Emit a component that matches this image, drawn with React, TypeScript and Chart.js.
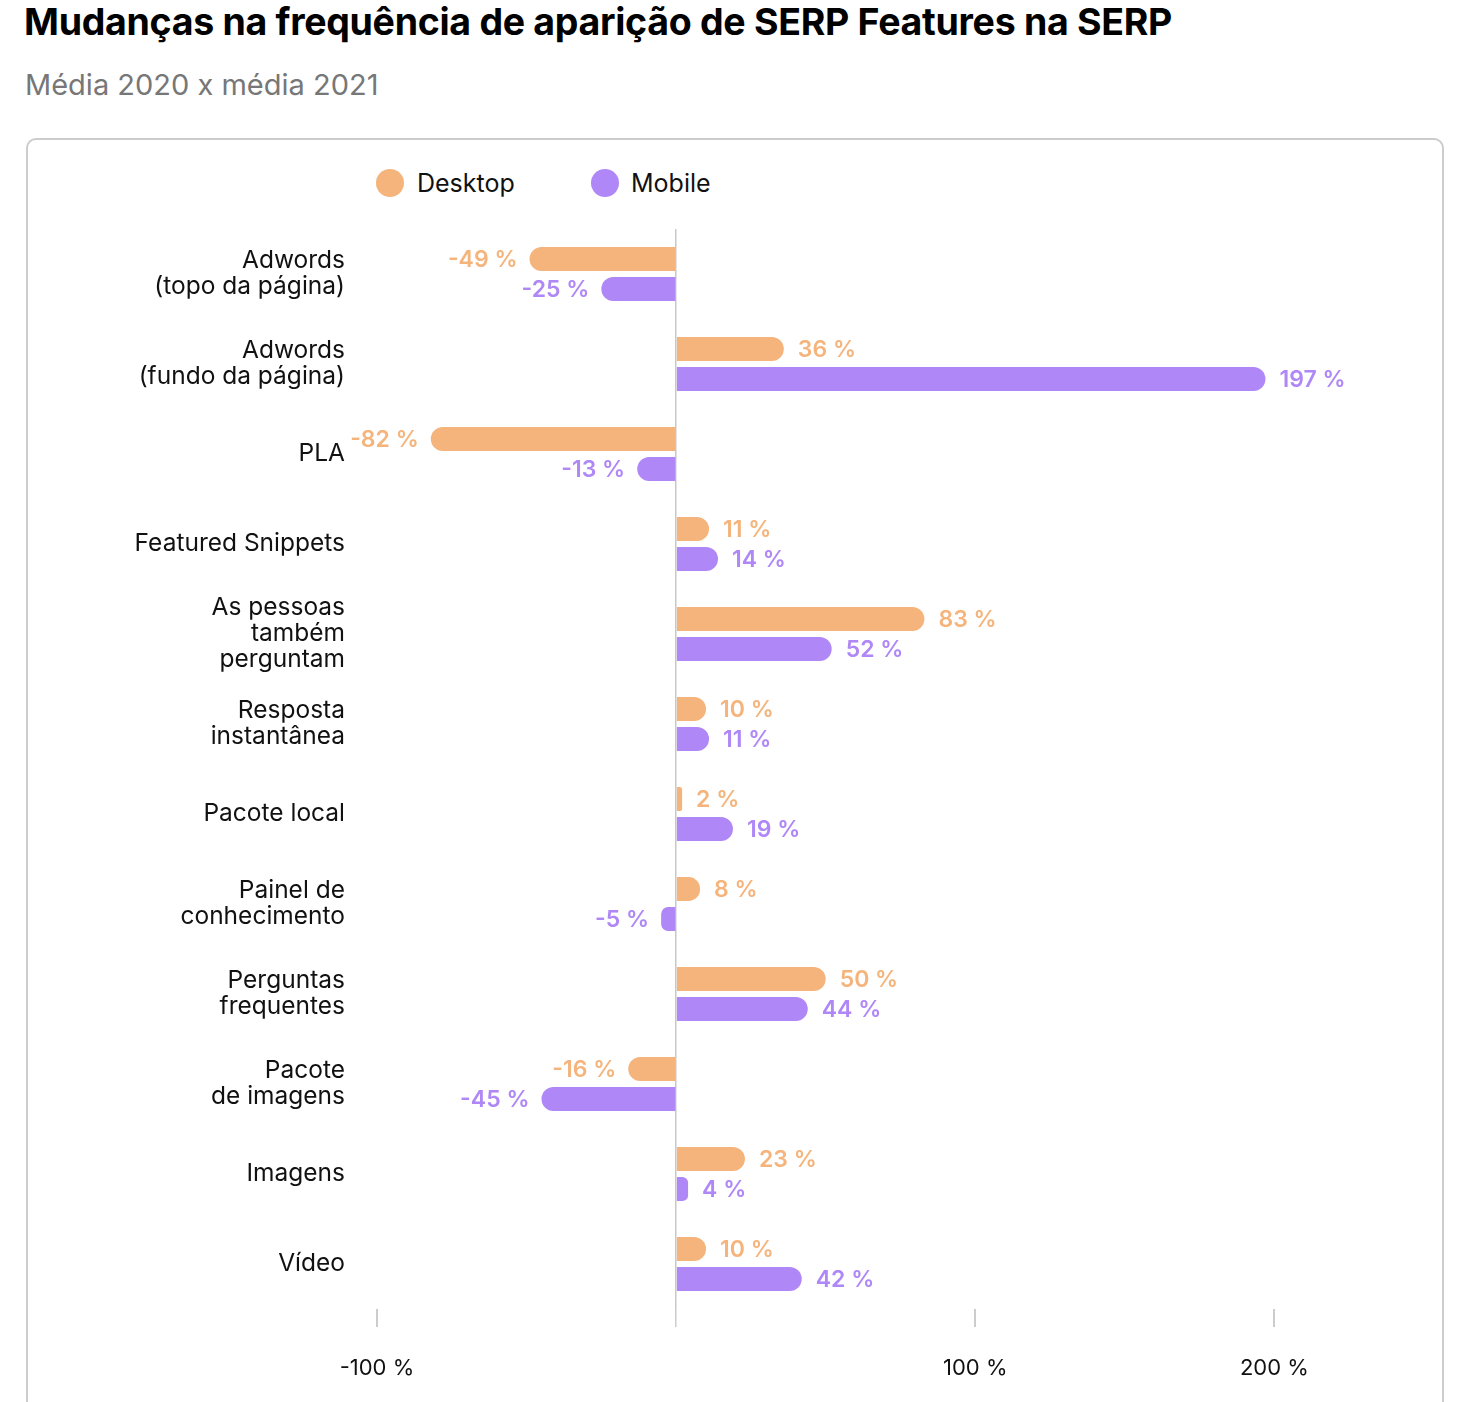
import React, { useEffect, useRef } from "react";
import { Chart, registerables } from "chart.js";

Chart.register(...registerables);

const categories: (string | string[])[] = [
  ["Adwords", "(topo da página)"],
  ["Adwords", "(fundo da página)"],
  "PLA",
  "Featured Snippets",
  ["As pessoas", "também", "perguntam"],
  ["Resposta", "instantânea"],
  "Pacote local",
  ["Painel de", "conhecimento"],
  ["Perguntas", "frequentes"],
  ["Pacote", "de imagens"],
  "Imagens",
  "Vídeo",
];

const desktopValues = [-49, 36, -82, 11, 83, 10, 2, 8, 50, -16, 23, 10];
const mobileValues = [-25, 197, -13, 14, 52, 11, 19, -5, 44, -45, 4, 42];
const tickValues = [-100, 0, 100, 200];

const DESKTOP = "#F5B47B";
const MOBILE = "#AF87F6";
const FONT = "Inter, 'Noto Sans', sans-serif";

const valueLabels = {
  id: "valueLabels",
  afterDatasetsDraw(chart: any) {
    const ctx = chart.ctx;
    ctx.save();
    ctx.font = `600 23px ${FONT}`;
    ctx.textBaseline = "middle";
    chart.data.datasets.forEach((ds: any, di: number) => {
      const meta = chart.getDatasetMeta(di);
      meta.data.forEach((el: any, i: number) => {
        const v = ds.data[i];
        ctx.fillStyle = ds.backgroundColor;
        const text = `${v} %`;
        if (v >= 0) {
          ctx.textAlign = "left";
          ctx.fillText(text, el.x + 14, el.y + 1);
        } else {
          ctx.textAlign = "right";
          ctx.fillText(text, el.x - 12, el.y + 1);
        }
      });
    });
    ctx.restore();
  },
};

export default function App() {
  const canvasRef = useRef<HTMLCanvasElement>(null);

  useEffect(() => {
    if (!canvasRef.current) return;
    const chart = new Chart(canvasRef.current, {
      type: "bar",
      data: {
        labels: categories,
        datasets: [
          {
            label: "Desktop",
            data: desktopValues,
            backgroundColor: DESKTOP,
            borderRadius: 12,
            borderSkipped: "start",
            categoryPercentage: 0.667,
            barPercentage: 0.8,
          },
          {
            label: "Mobile",
            data: mobileValues,
            backgroundColor: MOBILE,
            borderRadius: 12,
            borderSkipped: "start",
            categoryPercentage: 0.667,
            barPercentage: 0.8,
          },
        ],
      },
      options: {
        indexAxis: "y",
        animation: false,
        responsive: false,
        maintainAspectRatio: false,
        layout: { padding: { top: 229, right: 36, bottom: 0, left: 0 } },
        plugins: {
          legend: { display: false },
          tooltip: { enabled: false },
        },
        scales: {
          x: {
            type: "linear",
            min: -105,
            max: 250,
            z: 1,
            border: { display: false },
            afterFit: (scale: any) => {
              scale.height = 93;
            },
            afterBuildTicks: (scale: any) => {
              scale.ticks = tickValues.map((v) => ({ value: v }));
            },
            grid: {
              color: (c: any) => (c.tick && c.tick.value === 0 ? "#c8c8c8" : "#ffffff"),
              lineWidth: (c: any) => (c.tick && c.tick.value === 0 ? 1.5 : 2),
              tickColor: "#cccccc",
              tickLength: 18,
              drawTicks: true,
            },
            ticks: {
              color: "#111111",
              font: { family: FONT, size: 22 },
              padding: 28,
              maxRotation: 0,
              callback: (v: any) => (v === 0 ? "" : `${v} %`),
            },
          },
          y: {
            afterFit: (scale: any) => {
              scale.width = 362;
            },
            border: { display: false },
            grid: { display: false, drawTicks: false },
            ticks: {
              color: "#111111",
              font: { family: FONT, size: 24.5, lineHeight: 1.06 },
              padding: 17,
              autoSkip: false,
            },
          },
        },
      },
      plugins: [valueLabels],
    });
    return () => chart.destroy();
  }, []);

  return (
    <div
      style={{
        position: "absolute",
        left: 0,
        top: 0,
        width: 1460,
        height: 1402,
        overflow: "hidden",
        background: "#ffffff",
        fontFamily: FONT,
      }}
    >
      <div
        style={{
          position: "absolute",
          left: 24,
          top: 0,
          fontSize: 37.5,
          lineHeight: "44px",
          fontWeight: 700,
          color: "#000",
          whiteSpace: "nowrap",
          letterSpacing: "-0.3px",
        }}
      >
        Mudanças na frequência de aparição de SERP Features na SERP
      </div>
      <div
        style={{
          position: "absolute",
          left: 25,
          top: 67,
          fontSize: 29,
          lineHeight: "36px",
          color: "#777777",
          whiteSpace: "nowrap",
        }}
      >
        Média 2020 x média 2021
      </div>
      <div
        style={{
          position: "absolute",
          left: 26,
          top: 138,
          width: 1418,
          height: 1320,
          boxSizing: "border-box",
          border: "2px solid #cccccc",
          borderRadius: 10,
        }}
      />
      <div
        style={{
          position: "absolute",
          left: 376,
          top: 169,
          width: 28,
          height: 28,
          borderRadius: "50%",
          background: DESKTOP,
        }}
      />
      <div
        style={{
          position: "absolute",
          left: 417,
          top: 167,
          fontSize: 25,
          lineHeight: "32px",
          color: "#111",
        }}
      >
        Desktop
      </div>
      <div
        style={{
          position: "absolute",
          left: 591,
          top: 169,
          width: 28,
          height: 28,
          borderRadius: "50%",
          background: MOBILE,
        }}
      />
      <div
        style={{
          position: "absolute",
          left: 631,
          top: 167,
          fontSize: 25,
          lineHeight: "32px",
          color: "#111",
        }}
      >
        Mobile
      </div>
      <canvas
        ref={canvasRef}
        width={1460}
        height={1402}
        style={{ position: "absolute", left: 0, top: 0, width: 1460, height: 1402 }}
      />
    </div>
  );
}
